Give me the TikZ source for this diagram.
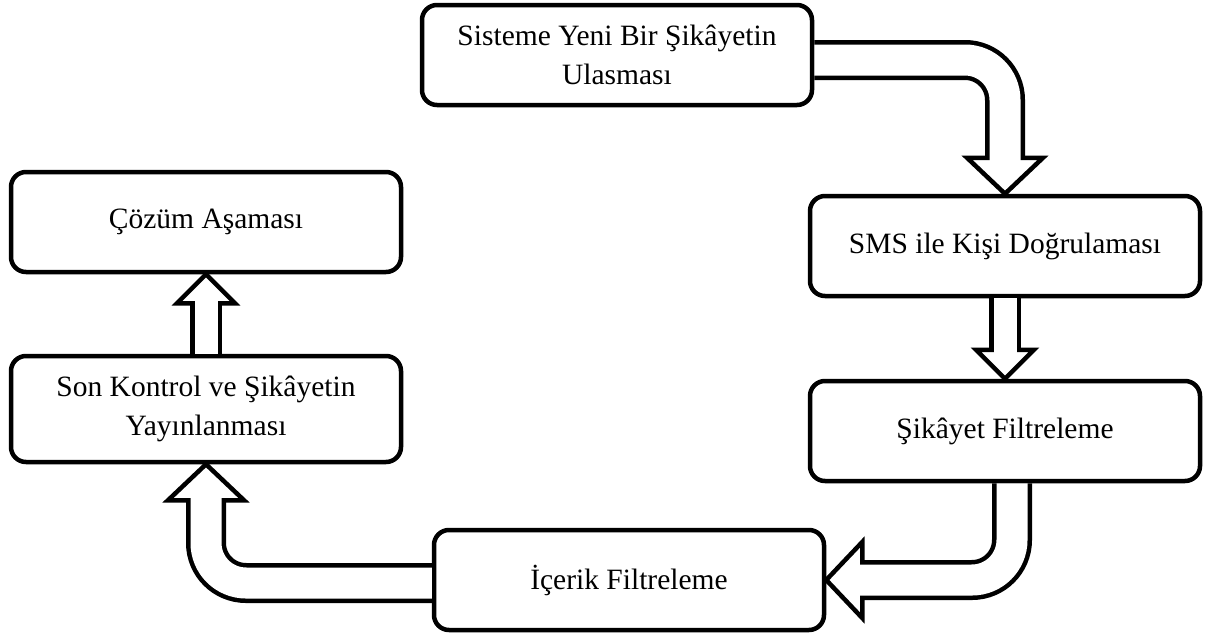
\documentclass[tikz,border=0pt]{standalone}
\usepackage{fontspec}
\setmainfont{Liberation Serif}
\usetikzlibrary{calc}
\begin{document}
\begin{tikzpicture}[x=1pt,y=-1pt]
% Dimensions des fleches courbes
\def\Lcourbe{36}
\def\Dcourbe{38}
\def\Ecourbe{31}
% Dimensions des fleches droites
\def\Ldroite{29}
\def\Ddroite{29}
\def\Edroite{23}
% Recouvrement tige / pointe
\def\Rec{3}
% Styles
\tikzstyle{etape}=[draw,line width=4.5pt,rounded corners=15pt,minimum width=390pt,minimum height=100pt,inner sep=0pt,align=center,font=\fontsize{29.5}{39}\selectfont]
\tikzstyle{tigecourbe}=[rounded corners=40pt,preaction={draw=black,line width=\Ecourbe pt+9pt,shorten >=1.5pt},draw=white,line width=\Ecourbe pt]
\tikzstyle{tigedroite}=[preaction={draw=black,line width=\Edroite pt+9pt,shorten >=1.5pt},draw=white,line width=\Edroite pt]
\tikzstyle{pointe}=[line width=4.5pt,fill=white,line join=miter]
% Cadre
\useasboundingbox (0,0) rectangle (1205,637);
% Etapes
\node[etape] (ulasma) at (617,55) {Sisteme Yeni Bir Şikâyetin\\Ulasması};
\node[etape] (sms) at (1005,246) {SMS ile Kişi Doğrulaması};
\node[etape] (filtre) at (1005,431) {Şikâyet Filtreleme};
\node[etape] (icerik) at (629,580) {İçerik Filtreleme};
\node[etape,minimum height=106pt] (yayin) at (206,409) {Son Kontrol ve Şikâyetin\\Yayınlanması};
\node[etape] (cozum) at (206,222) {Çözüm Aşaması};
% Fleche : ulasma -> sms
\draw[pointe] (sms.north) -- ($(sms.north)+(-\Dcourbe,-\Lcourbe)$) -- ($(sms.north)+(\Dcourbe,-\Lcourbe)$) -- cycle;
\path[tigecourbe] ($(ulasma.east)+(0,5)$) -| ($(sms.north)+(0,-\Lcourbe+\Rec)$);
% Fleche : sms -> filtre
\draw[pointe] (filtre.north) -- ($(filtre.north)+(-\Ddroite,-\Ldroite)$) -- ($(filtre.north)+(\Ddroite,-\Ldroite)$) -- cycle;
\path[tigedroite] (sms.south) -- ($(filtre.north)+(0,-\Ldroite+\Rec)$);
% Fleche : filtre -> icerik
\draw[pointe] (icerik.east) -- ($(icerik.east)+(\Lcourbe,-\Dcourbe)$) -- ($(icerik.east)+(\Lcourbe,\Dcourbe)$) -- cycle;
\path[tigecourbe] ($(filtre.south)+(7,0)$) |- ($(icerik.east)+(\Lcourbe-\Rec,0)$);
% Fleche : icerik -> yayin
\draw[pointe] (yayin.south) -- ($(yayin.south)+(-\Dcourbe,\Lcourbe)$) -- ($(yayin.south)+(\Dcourbe,\Lcourbe)$) -- cycle;
\path[tigecourbe] ($(icerik.west)+(0,3)$) -| ($(yayin.south)+(0,\Lcourbe-\Rec)$);
% Fleche : yayin -> cozum
\draw[pointe] (cozum.south) -- ($(cozum.south)+(-\Ddroite,\Ldroite)$) -- ($(cozum.south)+(\Ddroite,\Ldroite)$) -- cycle;
\path[tigedroite] (yayin.north) -- ($(cozum.south)+(0,\Ldroite-\Rec)$);
\end{tikzpicture}
\end{document}
